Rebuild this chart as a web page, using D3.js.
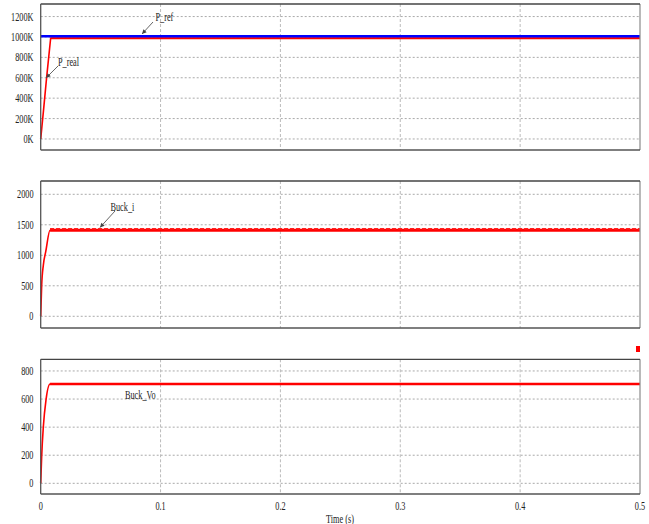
<!DOCTYPE html>
<html>
<head>
<meta charset="utf-8">
<script src="https://cdn.jsdelivr.net/npm/d3@7"></script>
<style>
  html, body { margin: 0; padding: 0; background: #fff; }
  svg { display: block; }
  text { font-family: "Liberation Serif", "Times New Roman", serif; fill: #222; }
</style>
</head>
<body>
<svg id="chart" width="649" height="524"></svg>
<script>
// Simulation time axis (seconds)
const xTicks = [0, 0.1, 0.2, 0.3, 0.4, 0.5];
const xTickLabels = ["0", "0.1", "0.2", "0.3", "0.4", "0.5"];

// Power reference and measured power (in K)
const pTime = [0, 0.5];
const pRef = [1000, 1000];
const pRealTime = [0, 0.0025, 0.005, 0.0083, 0.5];
const pReal = [0, 300, 610, 988, 988];
const pTicks = [0, 200, 400, 600, 800, 1000, 1200];
const pTickLabels = ["0K", "200K", "400K", "600K", "800K", "1000K", "1200K"];

// Buck inductor current
const iTime = [0, 0.0008, 0.0022, 0.0042, 0.0078, 0.5];
const buckI = [0, 500, 840, 1060, 1410, 1410];
const buckIRipple = [1434, 1434];
const iTicks = [0, 500, 1000, 1500, 2000];
const iTickLabels = ["0", "500", "1000", "1500", "2000"];

// Buck output voltage
const vTime = [0, 0.0008, 0.0022, 0.0044, 0.0078, 0.5];
const buckVo = [0, 190, 403, 593, 707, 707];
const vTicks = [0, 200, 400, 600, 800];
const vTickLabels = ["0", "200", "400", "600", "800"];

const svg = d3.select("#chart");
const x = d3.scaleLinear().domain([0, 0.5]).range([40.7, 640]);
const SX = 0.66; // horizontal squeeze for the narrow serif lettering

const panels = [
  { top: 4, bottom: 150, domain: [-108, 1323], ticks: pTicks, labels: pTickLabels },
  { top: 181, bottom: 328, domain: [-192, 2218], ticks: iTicks, labels: iTickLabels },
  { top: 359.3, bottom: 494, domain: [-76, 883], ticks: vTicks, labels: vTickLabels }
];
panels.forEach(p => {
  p.y = d3.scaleLinear().domain(p.domain).range([p.bottom, p.top]);
});

function squeezedText(g, tx, ty, str, anchor, size) {
  return g.append("text")
    .attr("transform", `translate(${tx},${ty}) scale(${SX},1)`)
    .attr("text-anchor", anchor || "start")
    .attr("font-size", size || 12.5)
    .text(str);
}

// Grids and y tick labels
panels.forEach(p => {
  const g = svg.append("g");
  const [x0, x1] = x.range();
  g.selectAll("line.hg").data(p.ticks).join("line")
    .attr("x1", x0).attr("x2", x1)
    .attr("y1", d => p.y(d)).attr("y2", d => p.y(d))
    .attr("stroke", "#aaa").attr("stroke-width", 1)
    .attr("stroke-dasharray", "2,2");
  g.selectAll("line.vg").data(xTicks.slice(1, -1)).join("line")
    .attr("x1", d => x(d)).attr("x2", d => x(d))
    .attr("y1", p.top).attr("y2", p.bottom)
    .attr("stroke", "#bbb").attr("stroke-width", 1)
    .attr("stroke-dasharray", "3,2");
  p.ticks.forEach((t, i) => {
    squeezedText(g, 33.5, p.y(t) + 4, p.labels[i], "end", 12.5);
  });
});

// Line generators
const lineFor = (p, curve) => d3.line().curve(curve || d3.curveLinear)
  .x(d => x(d[0])).y(d => p.y(d[1]));
const zip = (a, b) => a.map((v, i) => [v, b[i]]);

// Panel 1: P_real under P_ref
{
  const p = panels[0];
  const L = lineFor(p);
  svg.append("path").attr("d", L(zip(pRealTime, pReal)))
    .attr("fill", "none").attr("stroke", "#ff0000").attr("stroke-width", 1.6);
  svg.append("path").attr("d", L(zip(pRealTime.slice(-2), pReal.slice(-2))))
    .attr("fill", "none").attr("stroke", "#ff0000").attr("stroke-width", 2);
  svg.append("path").attr("d", L(zip(pTime, pRef)))
    .attr("fill", "none").attr("stroke", "#0000ff").attr("stroke-width", 2.5)
    .attr("transform", "translate(0,-0.8)");
}

// Panel 2: Buck_i
{
  const p = panels[1];
  const L = lineFor(p, d3.curveMonotoneX);
  svg.append("path").attr("d", L(zip(iTime, buckI)))
    .attr("fill", "none").attr("stroke", "#ff0000").attr("stroke-width", 1.6);
  svg.append("path").attr("d", L(zip(iTime.slice(-2), buckI.slice(-2))))
    .attr("fill", "none").attr("stroke", "#ff0000").attr("stroke-width", 3);
  svg.append("path").attr("d", L(zip(iTime.slice(-2), buckIRipple)))
    .attr("fill", "none").attr("stroke", "#ff2020").attr("stroke-width", 1.4)
    .attr("stroke-dasharray", "4,2");
}

// Panel 3: Buck_Vo
{
  const p = panels[2];
  const L = lineFor(p, d3.curveMonotoneX);
  svg.append("path").attr("d", L(zip(vTime, buckVo)))
    .attr("fill", "none").attr("stroke", "#ff0000").attr("stroke-width", 1.6);
  svg.append("path").attr("d", L(zip(vTime.slice(-2), buckVo.slice(-2))))
    .attr("fill", "none").attr("stroke", "#ff0000").attr("stroke-width", 2.7);
}

// Frames on top of traces
panels.forEach(p => {
  const [x0, x1] = x.range();
  const g = svg.append("g");
  g.append("line").attr("x1", x1).attr("x2", x1).attr("y1", p.top).attr("y2", p.bottom)
    .attr("stroke", "#8a8a8a").attr("stroke-width", 1.2);
  g.append("line").attr("x1", x0).attr("x2", x1).attr("y1", p.top).attr("y2", p.top)
    .attr("stroke", "#444").attr("stroke-width", 1.3);
  g.append("line").attr("x1", x0).attr("x2", x1).attr("y1", p.bottom).attr("y2", p.bottom)
    .attr("stroke", "#555").attr("stroke-width", 1.3);
  g.append("line").attr("x1", x0).attr("x2", x0).attr("y1", p.top).attr("y2", p.bottom)
    .attr("stroke", "#555").attr("stroke-width", 1.3);
});

// X tick labels (bottom panel only) and axis title
xTicks.forEach((t, i) => {
  squeezedText(svg, x(t), 509.5, xTickLabels[i], "middle", 12.5);
});
squeezedText(svg, 340, 523, "Time (s)", "middle", 12.5);

// Trace annotations with leader arrows
function annotate(label, tx, ty, ax, ay, bx, by) {
  squeezedText(svg, tx, ty, label, "start", 12.5);
  if (ax !== undefined) {
    svg.append("line").attr("x1", ax).attr("y1", ay).attr("x2", bx).attr("y2", by)
      .attr("stroke", "#555").attr("stroke-width", 0.9);
    const ang = Math.atan2(by - ay, bx - ax);
    const h = 4.5, w = 2.2;
    const pts = [
      [bx, by],
      [bx - h * Math.cos(ang) + w * Math.sin(ang), by - h * Math.sin(ang) - w * Math.cos(ang)],
      [bx - h * Math.cos(ang) - w * Math.sin(ang), by - h * Math.sin(ang) + w * Math.cos(ang)]
    ];
    svg.append("polygon").attr("points", pts.map(q => q.join(",")).join(" "))
      .attr("fill", "#444");
  }
}
annotate("P_ref", 155.5, 20.5, 153, 22, 142, 34);
annotate("P_real", 58, 65.5, 58, 66, 46, 78);
annotate("Buck_i", 110.5, 210.5, 115, 211, 100, 227.5);
annotate("Buck_Vo", 125, 398.5);

// Small red marker at the right edge
svg.append("rect").attr("x", 636).attr("y", 346).attr("width", 4).attr("height", 6)
  .attr("fill", "#ff0000");
</script>
</body>
</html>
